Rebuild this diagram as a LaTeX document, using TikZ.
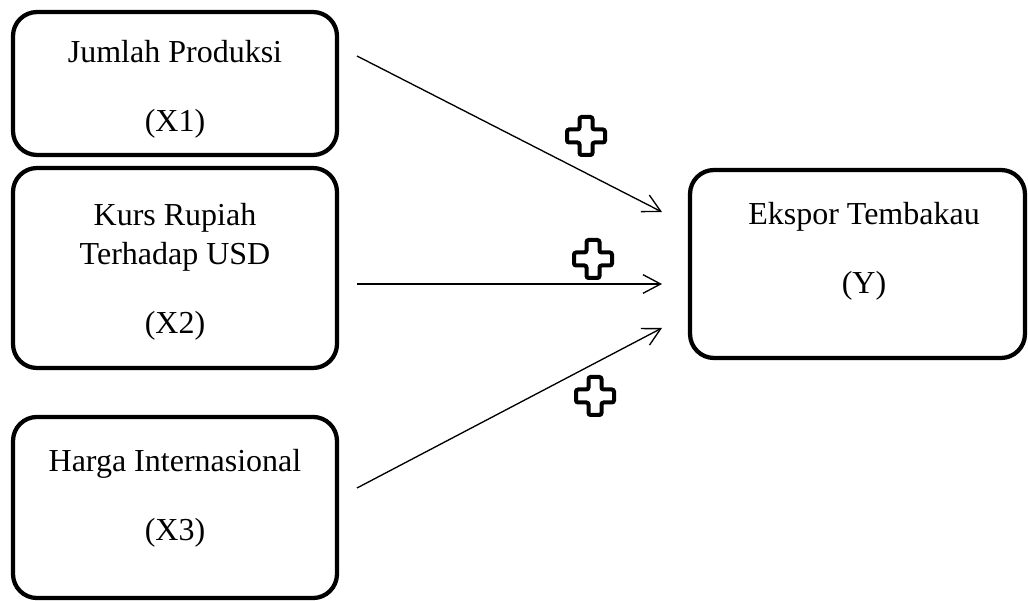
\documentclass[tikz,border=0pt]{standalone}
\usepackage{fontspec}
\setmainfont{Liberation Serif}
\usetikzlibrary{arrows.meta}
\tikzset{
  ar/.style={-{Straight Barb[length=6.6pt,width=7pt]},line width=0.5pt},
  box/.style={draw,line width=1.6pt,rounded corners=9pt,minimum width=121.5pt,inner sep=0pt},
  lbl/.style={align=center,inner sep=0pt,font=\fontsize{12pt}{14.5pt}\selectfont},
  plusmk/.pic={\draw[line width=1.5pt,rounded corners=0.8pt] (-6.5,-19) -- (6.5,-19) -- (6.5,-6.5) -- (19,-6.5) -- (19,6.5) -- (6.5,6.5) -- (6.5,19) -- (-6.5,19) -- (-6.5,6.5) -- (-19,6.5) -- (-19,-6.5) -- (-6.5,-6.5) -- cycle;}
}
\begin{document}
\begin{tikzpicture}[x=0.375pt,y=-0.375pt]
\useasboundingbox (0,0) rectangle (1028,601);
\node[box,minimum height=53.6pt] (x1) at (175,83.5) {};
\node[box,minimum height=75pt] (x2) at (175,268) {};
\node[box,minimum height=67.9pt] (x3) at (175,507.5) {};
\node[box,minimum width=125.6pt,minimum height=70.5pt] (y) at (857.5,264) {};
\node[lbl] (x1t) at (175,89) {Jumlah Produksi\\[11.5pt](X1)};
\node[lbl] (x2t) at (175,272) {Kurs Rupiah\\Terhadap USD\\[11.5pt](X2)};
\node[lbl] (x3t) at (175,498) {Harga Internasional\\[11.5pt](X3)};
\node[lbl] (yt) at (864,251) {Ekspor Tembakau\\[11.5pt](Y)};
\coordinate (a1) at (357,56);
\coordinate (b1) at (662,212);
\coordinate (a2) at (357,284);
\coordinate (b2) at (662,284);
\coordinate (a3) at (357,488);
\coordinate (b3) at (662,328);
\draw[ar] (a1) -- (b1);
\draw[ar] (a2) -- (b2);
\draw[ar] (a3) -- (b3);
\pic at (586,136) {plusmk};
\pic at (593,259) {plusmk};
\pic at (595,396) {plusmk};
\end{tikzpicture}
\end{document}
